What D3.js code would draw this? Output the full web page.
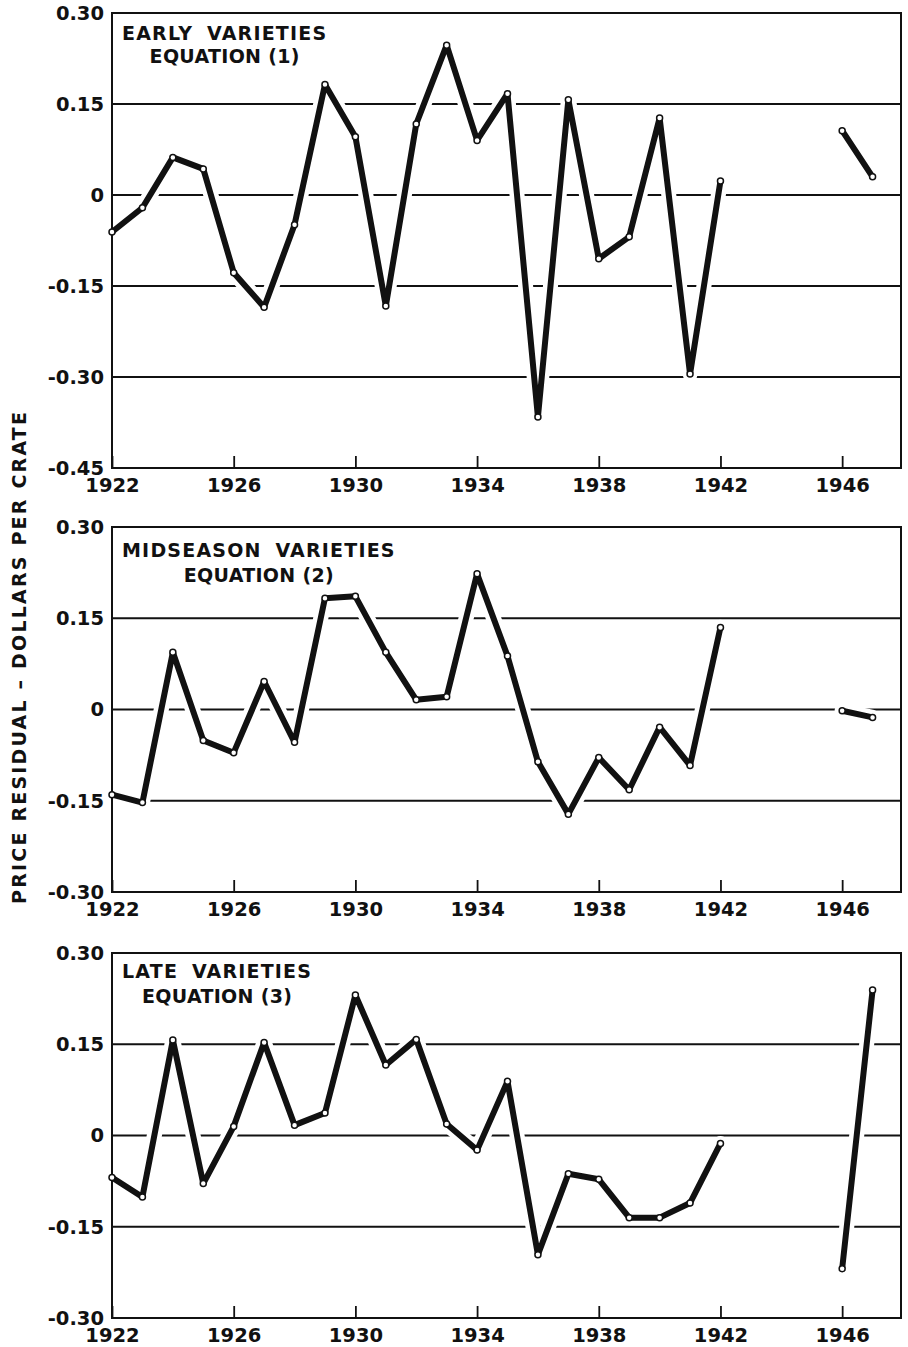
<!DOCTYPE html>
<html>
<head>
<meta charset="utf-8">
<script src="https://cdn.jsdelivr.net/npm/d3@7/dist/d3.min.js"></script>
<style>
  html, body { margin: 0; padding: 0; background: #fff; }
  svg { display: block; }
  text { font-family: "DejaVu Sans", sans-serif; font-weight: bold; fill: #111; }
</style>
</head>
<body>
<svg id="chart" width="908" height="1347"></svg>
<script>
// ---------------- DATA ----------------
const years = [1922,1923,1924,1925,1926,1927,1928,1929,1930,1931,1932,1933,1934,
               1935,1936,1937,1938,1939,1940,1941,1942,1943,1944,1945,1946,1947];

const earlyValues = [-0.061,-0.021,0.062,0.043,-0.128,-0.185,-0.049,0.182,0.096,-0.183,
                     0.117,0.247,0.090,0.167,-0.366,0.157,-0.105,-0.069,0.127,-0.295,
                     0.023,null,null,null,0.106,0.030];

const midValues = [-0.140,-0.153,0.094,-0.051,-0.071,0.046,-0.054,0.183,0.186,0.094,
                   0.016,0.021,0.223,0.088,-0.086,-0.172,-0.079,-0.132,-0.029,-0.092,
                   0.135,null,null,null,-0.002,-0.013];

const lateValues = [-0.069,-0.101,0.157,-0.079,0.015,0.153,0.017,0.037,0.231,0.116,
                    0.158,0.019,-0.024,0.089,-0.196,-0.063,-0.072,-0.135,-0.135,-0.111,
                    -0.013,null,null,null,-0.219,0.239];

const xTickValues = [1922,1926,1930,1934,1938,1942,1946];
const yTicksEarly = [0.30,0.15,0,-0.15,-0.30,-0.45];
const yTicksOther = [0.30,0.15,0,-0.15,-0.30];
const yTickLabels = {"0.3":"0.30","0.15":"0.15","0":"0","-0.15":"-0.15","-0.3":"-0.30","-0.45":"-0.45"};

const titlesLine1 = ["EARLY VARIETIES", "MIDSEASON VARIETIES", "LATE VARIETIES"];
const titlesLine2 = ["EQUATION (1)", "EQUATION (2)", "EQUATION (3)"];
const yAxisTitle = "PRICE RESIDUAL \u2013 DOLLARS PER CRATE";

// ---------------- LAYOUT ----------------
const left = 112, right = 901;
const x = d3.scaleLinear().domain([1922, 1948]).range([left, 903]);

const panels = [
  { values: earlyValues, ticks: yTicksEarly, domain: [-0.45, 0.30], top: 13,  bottom: 468,
    t1: 40,  t2: 63 },
  { values: midValues,   ticks: yTicksOther, domain: [-0.30, 0.30], top: 527, bottom: 892,
    t1: 557, t2: 582 },
  { values: lateValues,  ticks: yTicksOther, domain: [-0.30, 0.30], top: 953, bottom: 1318,
    t1: 978, t2: 1003 }
];

const svg = d3.select("#chart");

panels.forEach((p, i) => {
  const y = d3.scaleLinear().domain(p.domain).range([p.bottom, p.top]);
  const g = svg.append("g");

  // gridlines (interior ticks)
  const inner = p.ticks.filter(t => t < p.domain[1] - 1e-9 && t > p.domain[0] + 1e-9);
  g.selectAll("line.grid").data(inner).join("line")
    .attr("class", "grid")
    .attr("x1", left).attr("x2", right)
    .attr("y1", d => y(d)).attr("y2", d => y(d))
    .attr("stroke", "#111").attr("stroke-width", 1.8);

  const data = years.map((yr, k) => ({ yr, v: p.values[k] }));
  const line = d3.line()
    .defined(d => d.v !== null)
    .x(d => x(d.yr)).y(d => y(d.v));

  // white halo to break grid lines where the curve crosses
  g.append("path").datum(data)
    .attr("d", line).attr("fill", "none")
    .attr("stroke", "#fff").attr("stroke-width", 15)
    .attr("stroke-linejoin", "round").attr("stroke-linecap", "round");

  // frame
  g.append("rect")
    .attr("x", left).attr("y", p.top)
    .attr("width", right - left).attr("height", p.bottom - p.top)
    .attr("fill", "none").attr("stroke", "#111").attr("stroke-width", 2);

  // x axis (inward ticks + labels)
  const xAxis = d3.axisBottom(x).tickValues(xTickValues)
    .tickSizeInner(-12).tickSizeOuter(0).tickPadding(10)
    .tickFormat(d3.format("d"));
  const xa = g.append("g").attr("transform", `translate(0,${p.bottom})`).call(xAxis);
  xa.select(".domain").remove();
  xa.selectAll(".tick line").attr("stroke", "#111").attr("stroke-width", 1.8);
  xa.selectAll(".tick text")
    .attr("font-size", 19.5).attr("font-family", "DejaVu Sans").attr("font-weight", "bold")
    .attr("fill", "#111");

  // y axis labels
  const yAxis = d3.axisLeft(y).tickValues(p.ticks).tickSize(0).tickPadding(8)
    .tickFormat(d => yTickLabels[String(+d.toFixed(2))]);
  const ya = g.append("g").attr("transform", `translate(${left},0)`).call(yAxis);
  ya.select(".domain").remove();
  ya.selectAll(".tick text")
    .attr("font-size", 19.5).attr("font-family", "DejaVu Sans").attr("font-weight", "bold")
    .attr("fill", "#111");

  // data line
  g.append("path").datum(data)
    .attr("d", line).attr("fill", "none")
    .attr("stroke", "#111").attr("stroke-width", 6)
    .attr("stroke-linejoin", "round").attr("stroke-linecap", "round");

  // points
  g.selectAll("circle.pt").data(data.filter(d => d.v !== null)).join("circle")
    .attr("class", "pt")
    .attr("cx", d => x(d.yr)).attr("cy", d => y(d.v))
    .attr("r", 3).attr("fill", "#fff")
    .attr("stroke", "#111").attr("stroke-width", 1.5);

  // titles
  const tt1 = g.append("text")
    .attr("x", 122).attr("y", p.t1)
    .attr("font-size", 19).attr("letter-spacing", 1.2).attr("word-spacing", 6)
    .text(titlesLine1[i]);
  const bb = tt1.node().getBBox();
  g.append("text")
    .attr("x", bb.x + bb.width / 2).attr("y", p.t2)
    .attr("text-anchor", "middle")
    .attr("font-size", 19).attr("letter-spacing", 0.3)
    .text(titlesLine2[i]);
});

// y axis title
svg.append("text")
  .attr("transform", "translate(26,658) rotate(-90)")
  .attr("text-anchor", "middle")
  .attr("font-size", 19)
  .attr("textLength", 492).attr("lengthAdjust", "spacing")
  .text(yAxisTitle);
</script>
</body>
</html>
